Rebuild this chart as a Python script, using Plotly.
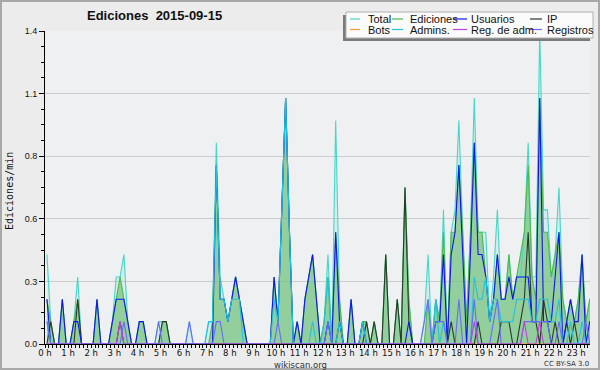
import plotly.graph_objects as go

# 10-minute bins, values in edits per minute (one row per hour, 6 bins each)
total = [
    0.4, 0.1, 0.0, 0.0, 0.2, 0.0,
    0.0, 0.1, 0.3, 0.0, 0.0, 0.0,
    0.0, 0.2, 0.0, 0.0, 0.0, 0.1,
    0.3, 0.3, 0.4, 0.1, 0.0, 0.0,
    0.1, 0.1, 0.0, 0.0, 0.0, 0.1,
    0.1, 0.1, 0.0, 0.0, 0.0, 0.0,
    0.0, 0.1, 0.0, 0.0, 0.0, 0.0,
    0.1, 0.1, 0.9, 0.3, 0.2, 0.1,
    0.2, 0.3, 0.2, 0.1, 0.0, 0.0,
    0.0, 0.0, 0.0, 0.0, 0.0, 0.3,
    0.1, 0.6, 1.1, 0.5, 0.0, 0.1,
    0.0, 0.2, 0.3, 0.4, 0.2, 0.0,
    0.1, 0.4, 0.0, 1.0, 0.2, 0.0,
    0.0, 0.2, 0.0, 0.0, 0.1, 0.1,
    0.0, 0.1, 0.0, 0.0, 0.4, 0.0,
    0.0, 0.2, 0.0, 0.7, 0.2, 0.0,
    0.0, 0.0, 0.1, 0.4, 0.0, 0.2,
    0.1, 0.6, 0.0, 0.5, 0.6, 1.0,
    0.5, 0.1, 0.5, 1.1, 0.5, 0.5,
    0.5, 0.1, 0.3, 0.6, 0.2, 0.2,
    0.4, 0.2, 0.3, 0.3, 0.5, 0.9,
    0.3, 0.3, 1.4, 0.6, 0.6, 0.3,
    0.4, 0.7, 0.2, 0.1, 0.2, 0.1,
    0.2, 0.4, 0.1, 0.2, 0.2, 0.1,
]
ediciones = [
    0.2, 0.1, 0.0, 0.0, 0.2, 0.0,
    0.0, 0.1, 0.2, 0.0, 0.0, 0.0,
    0.0, 0.2, 0.0, 0.0, 0.0, 0.1,
    0.2, 0.3, 0.2, 0.1, 0.0, 0.0,
    0.1, 0.1, 0.0, 0.0, 0.0, 0.0,
    0.1, 0.1, 0.0, 0.0, 0.0, 0.0,
    0.0, 0.0, 0.0, 0.0, 0.0, 0.0,
    0.0, 0.1, 0.8, 0.2, 0.2, 0.1,
    0.2, 0.3, 0.2, 0.1, 0.0, 0.0,
    0.0, 0.0, 0.0, 0.0, 0.0, 0.3,
    0.1, 0.6, 1.1, 0.5, 0.0, 0.1,
    0.0, 0.2, 0.3, 0.4, 0.2, 0.0,
    0.1, 0.3, 0.0, 0.5, 0.2, 0.0,
    0.0, 0.2, 0.0, 0.0, 0.1, 0.1,
    0.0, 0.1, 0.0, 0.0, 0.4, 0.0,
    0.0, 0.2, 0.0, 0.7, 0.2, 0.0,
    0.0, 0.0, 0.0, 0.2, 0.0, 0.2,
    0.1, 0.5, 0.0, 0.5, 0.5, 0.8,
    0.5, 0.1, 0.5, 0.9, 0.5, 0.5,
    0.3, 0.1, 0.2, 0.4, 0.2, 0.2,
    0.4, 0.2, 0.3, 0.4, 0.5, 0.8,
    0.3, 0.2, 1.1, 0.5, 0.5, 0.3,
    0.4, 0.5, 0.2, 0.1, 0.2, 0.1,
    0.2, 0.4, 0.1, 0.2, 0.2, 0.1,
]
usuarios = [
    0.2, 0.0, 0.0, 0.0, 0.2, 0.0,
    0.0, 0.1, 0.1, 0.0, 0.0, 0.0,
    0.0, 0.2, 0.0, 0.0, 0.0, 0.1,
    0.2, 0.2, 0.2, 0.1, 0.0, 0.0,
    0.1, 0.1, 0.0, 0.0, 0.0, 0.0,
    0.0, 0.0, 0.0, 0.0, 0.0, 0.0,
    0.0, 0.0, 0.0, 0.0, 0.0, 0.0,
    0.0, 0.0, 0.8, 0.2, 0.2, 0.1,
    0.2, 0.3, 0.2, 0.1, 0.0, 0.0,
    0.0, 0.0, 0.0, 0.0, 0.0, 0.3,
    0.1, 0.6, 1.1, 0.5, 0.0, 0.1,
    0.0, 0.2, 0.3, 0.4, 0.2, 0.0,
    0.0, 0.1, 0.0, 0.5, 0.1, 0.0,
    0.0, 0.2, 0.0, 0.0, 0.1, 0.0,
    0.0, 0.0, 0.0, 0.0, 0.0, 0.0,
    0.0, 0.0, 0.0, 0.0, 0.1, 0.0,
    0.0, 0.0, 0.0, 0.0, 0.0, 0.1,
    0.1, 0.4, 0.0, 0.4, 0.5, 0.8,
    0.4, 0.0, 0.4, 0.9, 0.4, 0.4,
    0.3, 0.1, 0.2, 0.4, 0.2, 0.2,
    0.3, 0.2, 0.3, 0.3, 0.3, 0.3,
    0.1, 0.1, 1.1, 0.1, 0.1, 0.1,
    0.3, 0.5, 0.0, 0.1, 0.2, 0.1,
    0.1, 0.4, 0.0, 0.1, 0.1, 0.1,
]
ip = [
    0.0, 0.1, 0.0, 0.0, 0.0, 0.0,
    0.0, 0.0, 0.2, 0.0, 0.0, 0.0,
    0.0, 0.0, 0.0, 0.0, 0.0, 0.0,
    0.0, 0.1, 0.0, 0.0, 0.0, 0.0,
    0.0, 0.0, 0.0, 0.0, 0.0, 0.0,
    0.1, 0.1, 0.0, 0.0, 0.0, 0.0,
    0.0, 0.0, 0.0, 0.0, 0.0, 0.0,
    0.0, 0.0, 0.0, 0.0, 0.0, 0.0,
    0.0, 0.0, 0.0, 0.0, 0.0, 0.0,
    0.0, 0.0, 0.0, 0.0, 0.0, 0.0,
    0.0, 0.0, 0.0, 0.0, 0.0, 0.0,
    0.0, 0.0, 0.0, 0.0, 0.0, 0.0,
    0.0, 0.0, 0.0, 0.0, 0.1, 0.0,
    0.0, 0.0, 0.0, 0.0, 0.0, 0.1,
    0.0, 0.1, 0.0, 0.0, 0.4, 0.0,
    0.0, 0.2, 0.0, 0.7, 0.1, 0.0,
    0.0, 0.0, 0.0, 0.0, 0.0, 0.0,
    0.0, 0.0, 0.0, 0.1, 0.0, 0.0,
    0.0, 0.0, 0.0, 0.0, 0.1, 0.0,
    0.0, 0.0, 0.0, 0.0, 0.1, 0.1,
    0.1, 0.0, 0.0, 0.1, 0.2, 0.5,
    0.1, 0.1, 0.0, 0.2, 0.1, 0.0,
    0.1, 0.0, 0.0, 0.1, 0.0, 0.1,
    0.0, 0.0, 0.0, 0.0, 0.0, 0.0,
]
bots = [
    0.0, 0.0, 0.0, 0.0, 0.0, 0.0,
    0.0, 0.0, 0.0, 0.0, 0.0, 0.0,
    0.0, 0.0, 0.0, 0.0, 0.0, 0.0,
    0.0, 0.0, 0.0, 0.0, 0.0, 0.0,
    0.0, 0.0, 0.0, 0.0, 0.0, 0.0,
    0.0, 0.0, 0.0, 0.0, 0.0, 0.0,
    0.0, 0.0, 0.0, 0.0, 0.0, 0.0,
    0.0, 0.0, 0.0, 0.0, 0.0, 0.0,
    0.0, 0.0, 0.0, 0.0, 0.0, 0.0,
    0.0, 0.0, 0.0, 0.0, 0.0, 0.0,
    0.0, 0.0, 0.0, 0.0, 0.0, 0.0,
    0.0, 0.0, 0.0, 0.0, 0.0, 0.0,
    0.0, 0.0, 0.0, 0.0, 0.0, 0.0,
    0.0, 0.0, 0.0, 0.0, 0.0, 0.0,
    0.0, 0.0, 0.0, 0.0, 0.0, 0.0,
    0.0, 0.0, 0.0, 0.0, 0.0, 0.0,
    0.0, 0.0, 0.0, 0.0, 0.0, 0.0,
    0.0, 0.0, 0.0, 0.0, 0.0, 0.0,
    0.0, 0.0, 0.0, 0.0, 0.0, 0.0,
    0.0, 0.0, 0.0, 0.0, 0.0, 0.0,
    0.0, 0.0, 0.0, 0.0, 0.0, 0.0,
    0.0, 0.0, 0.0, 0.0, 0.0, 0.0,
    0.0, 0.0, 0.0, 0.0, 0.0, 0.0,
    0.0, 0.0, 0.0, 0.0, 0.0, 0.0,
]
admins = [
    0.1, 0.0, 0.0, 0.0, 0.0, 0.0,
    0.0, 0.0, 0.0, 0.0, 0.0, 0.0,
    0.0, 0.0, 0.0, 0.0, 0.0, 0.0,
    0.0, 0.0, 0.0, 0.0, 0.0, 0.0,
    0.0, 0.0, 0.0, 0.0, 0.0, 0.0,
    0.0, 0.0, 0.0, 0.0, 0.0, 0.0,
    0.0, 0.0, 0.0, 0.0, 0.0, 0.0,
    0.1, 0.1, 0.8, 0.2, 0.2, 0.1,
    0.2, 0.2, 0.2, 0.0, 0.0, 0.0,
    0.0, 0.0, 0.0, 0.0, 0.0, 0.2,
    0.1, 0.6, 1.1, 0.5, 0.0, 0.0,
    0.0, 0.0, 0.0, 0.1, 0.0, 0.0,
    0.1, 0.3, 0.0, 0.0, 0.1, 0.0,
    0.0, 0.0, 0.0, 0.0, 0.1, 0.0,
    0.0, 0.0, 0.0, 0.0, 0.0, 0.0,
    0.0, 0.0, 0.0, 0.0, 0.0, 0.0,
    0.0, 0.0, 0.0, 0.0, 0.0, 0.2,
    0.0, 0.1, 0.0, 0.0, 0.0, 0.0,
    0.0, 0.0, 0.0, 0.3, 0.2, 0.2,
    0.3, 0.1, 0.2, 0.2, 0.1, 0.1,
    0.1, 0.1, 0.2, 0.2, 0.2, 0.2,
    0.1, 0.1, 0.2, 0.2, 0.2, 0.1,
    0.1, 0.2, 0.0, 0.0, 0.1, 0.0,
    0.0, 0.1, 0.0, 0.0, 0.0, 0.0,
]
reg_adm = [
    0.0, 0.0, 0.0, 0.0, 0.0, 0.0,
    0.0, 0.0, 0.0, 0.0, 0.0, 0.0,
    0.0, 0.0, 0.0, 0.0, 0.0, 0.0,
    0.0, 0.1, 0.0, 0.0, 0.0, 0.0,
    0.0, 0.0, 0.0, 0.0, 0.0, 0.0,
    0.0, 0.0, 0.0, 0.0, 0.0, 0.0,
    0.0, 0.0, 0.0, 0.0, 0.0, 0.0,
    0.0, 0.0, 0.0, 0.0, 0.0, 0.0,
    0.0, 0.0, 0.0, 0.0, 0.0, 0.0,
    0.0, 0.0, 0.0, 0.0, 0.0, 0.0,
    0.0, 0.0, 0.0, 0.0, 0.0, 0.0,
    0.0, 0.0, 0.0, 0.0, 0.0, 0.0,
    0.0, 0.0, 0.0, 0.0, 0.0, 0.0,
    0.0, 0.0, 0.0, 0.0, 0.0, 0.0,
    0.0, 0.0, 0.0, 0.0, 0.0, 0.0,
    0.0, 0.0, 0.0, 0.0, 0.0, 0.0,
    0.0, 0.0, 0.0, 0.0, 0.0, 0.0,
    0.0, 0.0, 0.0, 0.0, 0.0, 0.0,
    0.0, 0.0, 0.0, 0.1, 0.0, 0.0,
    0.0, 0.0, 0.0, 0.0, 0.0, 0.0,
    0.0, 0.0, 0.0, 0.0, 0.1, 0.0,
    0.0, 0.0, 0.1, 0.0, 0.0, 0.0,
    0.0, 0.0, 0.0, 0.0, 0.0, 0.0,
    0.0, 0.0, 0.0, 0.0, 0.0, 0.0,
]
registros = [
    0.1, 0.0, 0.0, 0.0, 0.0, 0.0,
    0.0, 0.0, 0.0, 0.0, 0.0, 0.0,
    0.0, 0.0, 0.0, 0.0, 0.0, 0.0,
    0.0, 0.0, 0.1, 0.0, 0.0, 0.0,
    0.0, 0.0, 0.0, 0.0, 0.0, 0.1,
    0.0, 0.0, 0.0, 0.0, 0.0, 0.0,
    0.0, 0.1, 0.0, 0.0, 0.0, 0.0,
    0.0, 0.0, 0.1, 0.1, 0.0, 0.0,
    0.0, 0.0, 0.0, 0.0, 0.0, 0.0,
    0.0, 0.0, 0.0, 0.0, 0.0, 0.0,
    0.1, 0.0, 0.0, 0.0, 0.0, 0.0,
    0.0, 0.0, 0.0, 0.0, 0.0, 0.0,
    0.0, 0.1, 0.0, 0.0, 0.0, 0.0,
    0.0, 0.0, 0.0, 0.0, 0.0, 0.0,
    0.0, 0.0, 0.0, 0.0, 0.0, 0.0,
    0.0, 0.0, 0.0, 0.0, 0.0, 0.0,
    0.0, 0.0, 0.1, 0.2, 0.0, 0.1,
    0.1, 0.1, 0.0, 0.0, 0.0, 0.2,
    0.0, 0.0, 0.0, 0.2, 0.0, 0.0,
    0.0, 0.0, 0.1, 0.2, 0.0, 0.0,
    0.0, 0.0, 0.0, 0.0, 0.1, 0.1,
    0.1, 0.1, 0.1, 0.1, 0.1, 0.0,
    0.0, 0.1, 0.0, 0.0, 0.0, 0.0,
    0.0, 0.0, 0.1, 0.0, 0.0, 0.0,
]

hour_labels = [f"{h} h" for h in range(24)]
y_tick_vals = [0.0, 0.28, 0.56, 0.84, 1.12, 1.4]
y_tick_text = ["0.0", "0.3", "0.6", "0.8", "1.1", "1.4"]

series = [
    ("Total", total, "#45d8c8"),
    ("Ediciones", ediciones, "#4cbb4c"),
    ("Usuarios", usuarios, "#1414f0"),
    ("IP", ip, "#2a3a2a"),
    ("Bots", bots, "#ff9a30"),
    ("Admins.", admins, "#20c4dc"),
    ("Reg. de adm.", reg_adm, "#c040e0"),
    ("Registros", registros, "#6a6aff"),
]

N = len(total)
x_hours = [(i + 0.5) / 6 for i in range(N)]

W, H = 600, 370
L, R, T, B = 45, 590, 31, 344


def px(x):
    return (x - L) / (R - L)


def py(y):
    return (B - y) / (B - T)


fig = go.Figure()

# filled areas
fig.add_trace(go.Scatter(x=x_hours, y=total, mode="lines", line=dict(width=0),
                         fill="tozeroy", fillcolor="rgba(120,215,215,0.20)",
                         hoverinfo="skip", showlegend=False))
fig.add_trace(go.Scatter(x=x_hours, y=ediciones, mode="lines", line=dict(width=0),
                         fill="tozeroy", fillcolor="rgba(110,190,115,0.65)",
                         hoverinfo="skip", showlegend=False))

draw_order = ["Total", "Ediciones", "Bots", "IP", "Usuarios", "Admins.", "Registros", "Reg. de adm."]
lookup = {n: (v, c) for n, v, c in series}
for name in draw_order:
    vals, col = lookup[name]
    fig.add_trace(go.Scatter(x=x_hours, y=vals, mode="lines", name=name,
                             line=dict(color=col, width=1.1), showlegend=False))

shapes = []
annotations = []

# outer frame
shapes.append(dict(type="rect", xref="paper", yref="paper",
                   x0=px(1), x1=px(W - 1), y0=py(H - 1), y1=py(1),
                   line=dict(color="#a8a8a8", width=2), fillcolor="rgba(0,0,0,0)", layer="below"))

# legend box with shadow
lx0, lx1, ly0, ly1 = 346, 593, 12, 38
shapes.append(dict(type="rect", xref="paper", yref="paper",
                   x0=px(lx0 - 3), x1=px(lx1 - 3), y0=py(ly1 + 3), y1=py(ly0 + 3),
                   line=dict(width=0), fillcolor="#7a7a7a", layer="above"))
shapes.append(dict(type="rect", xref="paper", yref="paper",
                   x0=px(lx0), x1=px(lx1), y0=py(ly1), y1=py(ly0),
                   line=dict(color="#b0b0b0", width=1), fillcolor="#fbfbfb", layer="above"))

col_line_x = [(350, 360), (392, 403), (453, 467), (530, 542)]
col_text_x = [366, 408, 469, 545]
row_y = [19, 29.5]
for k, (name, vals, col) in enumerate(series):
    r, c = divmod(k, 4)
    shapes.append(dict(type="line", xref="paper", yref="paper",
                       x0=px(col_line_x[c][0]), x1=px(col_line_x[c][1]),
                       y0=py(row_y[r]), y1=py(row_y[r]),
                       line=dict(color=col, width=1.2), layer="above"))
    annotations.append(dict(text=name, xref="paper", yref="paper",
                            x=px(col_text_x[c]), y=py(row_y[r]),
                            xanchor="left", yanchor="middle", showarrow=False,
                            font=dict(family="Liberation Sans", size=11, color="#111")))

# title
annotations.append(dict(text="<b>Ediciones  2015-09-15</b>", xref="paper", yref="paper",
                        x=px(85), y=py(16), xanchor="left", yanchor="middle", showarrow=False,
                        font=dict(family="Liberation Sans", size=13, color="#111")))
# y-axis title
annotations.append(dict(text="Ediciones/min", xref="paper", yref="paper",
                        x=px(9), y=py(191), xanchor="center", yanchor="middle",
                        textangle=-90, showarrow=False,
                        font=dict(family="DejaVu Sans Mono", size=10, color="#111")))
# footer
annotations.append(dict(text="wikiscan.org", xref="paper", yref="paper",
                        x=px(300), y=py(357.5), xanchor="center", yanchor="top", showarrow=False,
                        font=dict(family="DejaVu Sans", size=8.5, color="#333")))
annotations.append(dict(text="CC BY-SA 3.0", xref="paper", yref="paper",
                        x=px(591), y=py(358), xanchor="right", yanchor="top", showarrow=False,
                        font=dict(family="DejaVu Sans", size=7, color="#333")))

fig.update_layout(
    width=W, height=H,
    margin=dict(l=L, r=W - R, t=T, b=H - B, pad=0),
    paper_bgcolor="#ececec",
    plot_bgcolor="#eef0f1",
    showlegend=False,
    shapes=shapes,
    annotations=annotations,
    xaxis=dict(range=[0, (R - L) / 23.1], tickmode="array",
               tickvals=list(range(24)), ticktext=hour_labels,
               ticks="outside", ticklen=3, tickcolor="#000", showgrid=False,
               showline=True, linecolor="#000", linewidth=1, zeroline=False,
               ticklabelstandoff=-2,
               tickfont=dict(family="DejaVu Sans", size=8.5, color="#111"),
               minor=dict(dtick=1 / 6, ticks="outside", ticklen=3, tickcolor="#000", showgrid=False)),
    yaxis=dict(range=[0, 1.4], tickmode="array", tickvals=y_tick_vals, ticktext=y_tick_text,
               ticks="outside", ticklen=5, tickcolor="#000", showgrid=True,
               gridcolor="#cccccc", gridwidth=1, showline=True, linecolor="#000", linewidth=1,
               zeroline=False,
               tickfont=dict(family="Liberation Sans", size=9, color="#111"),
               minor=dict(dtick=0.07, tick0=0, ticks="outside", ticklen=3, tickcolor="#000", showgrid=False)),
)

fig.write_html("out.html", config={"displayModeBar": False},
               post_script="document.body.style.margin='0';document.body.style.overflow='hidden';")
